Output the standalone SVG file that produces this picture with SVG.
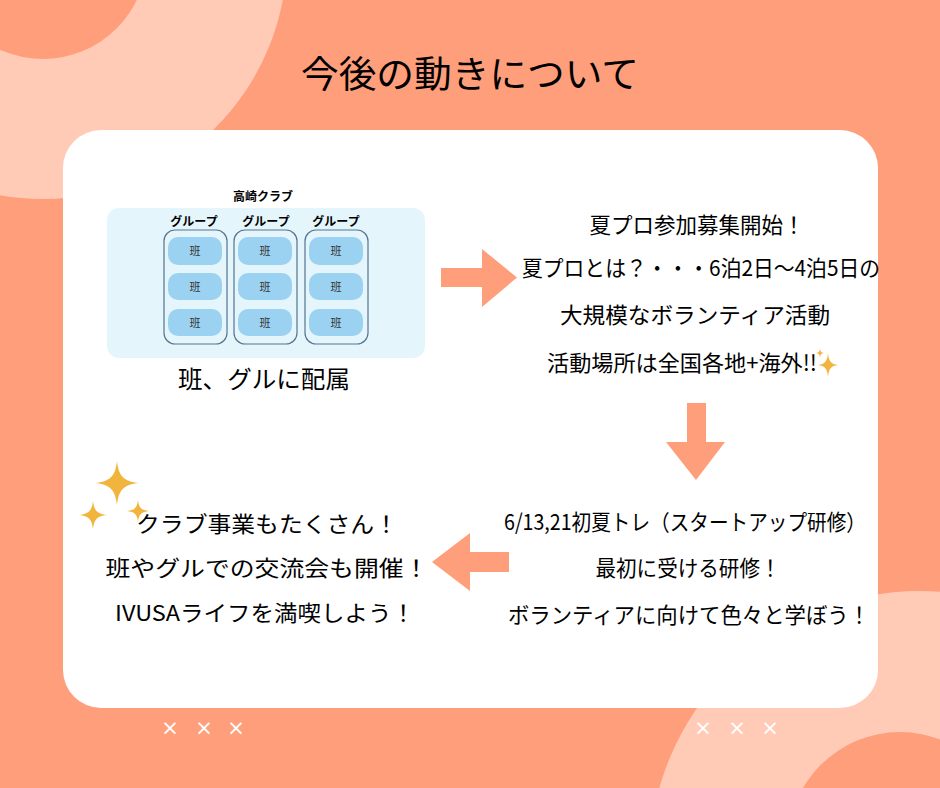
<svg xmlns="http://www.w3.org/2000/svg" width="940" height="788" viewBox="0 0 940 788">
<style>
.jp{font-family:"Noto Sans CJK JP","Noto Sans CJK SC",sans-serif;fill:#000}
.body{font-size:22px}
.small{font-size:12px;font-weight:bold}
.cell{fill:#9CD2F1}
.cellt{font-family:"Noto Sans CJK JP",serif;font-size:11px;fill:#333}
.grp{fill:none;stroke:#557590;stroke-width:1.2}
.arrow{fill:#FF9E7B}
.star{fill:#F1B53E}
.mark{font-family:"DejaVu Sans",sans-serif;font-size:21px;fill:#fff}
</style>
<defs>
<path id="spark" d="M0,-1 C0.08,-0.3 0.3,-0.08 1,0 C0.3,0.08 0.08,0.3 0,1 C-0.08,0.3 -0.3,0.08 -1,0 C-0.3,-0.08 -0.08,-0.3 0,-1 Z"/>
</defs>
<!-- background -->
<rect width="940" height="788" fill="#FF9E7B"/>
<circle cx="43" cy="-45" r="244" fill="#FFCBB6"/>
<circle cx="43" cy="-45" r="104" fill="#FF9E7B"/>
<circle cx="920" cy="862" r="271" fill="#FFCBB6"/>
<circle cx="900" cy="844" r="112" fill="#FF9E7B"/>
<rect x="63" y="130" width="815" height="578" rx="38" fill="#fff"/>

<g id="title"><text class="jp" x="470" y="88" font-size="37" text-anchor="middle" textLength="338" lengthAdjust="spacingAndGlyphs">今後の動きについて</text></g>

<g id="club-diagram">
<text class="jp small" x="263" y="201" text-anchor="middle">高崎クラブ</text>
<rect x="107" y="208" width="318" height="150" rx="12" fill="#E4F6FC"/>
<text class="jp small" x="194" y="226" text-anchor="middle">グループ</text>
<text class="jp small" x="266" y="226" text-anchor="middle">グループ</text>
<text class="jp small" x="336" y="226" text-anchor="middle">グループ</text>
<rect class="grp" x="164" y="230" width="63" height="114" rx="11"/>
<rect class="grp" x="234" y="230" width="63" height="114" rx="11"/>
<rect class="grp" x="305" y="230" width="63" height="114" rx="11"/>
<g>
<rect class="cell" x="168" y="237" width="54" height="28" rx="10"/>
<rect class="cell" x="168" y="273" width="54" height="27" rx="10"/>
<rect class="cell" x="168" y="309" width="54" height="27" rx="10"/>
<rect class="cell" x="238" y="237" width="54" height="28" rx="10"/>
<rect class="cell" x="238" y="273" width="54" height="27" rx="10"/>
<rect class="cell" x="238" y="309" width="54" height="27" rx="10"/>
<rect class="cell" x="309" y="237" width="54" height="28" rx="10"/>
<rect class="cell" x="309" y="273" width="54" height="27" rx="10"/>
<rect class="cell" x="309" y="309" width="54" height="27" rx="10"/>
</g>
<g text-anchor="middle">
<text class="cellt" x="195" y="255">班</text>
<text class="cellt" x="195" y="291">班</text>
<text class="cellt" x="195" y="327">班</text>
<text class="cellt" x="265" y="255">班</text>
<text class="cellt" x="265" y="291">班</text>
<text class="cellt" x="265" y="327">班</text>
<text class="cellt" x="336" y="255">班</text>
<text class="cellt" x="336" y="291">班</text>
<text class="cellt" x="336" y="327">班</text>
</g>
<text class="jp" x="264" y="388" font-size="24" text-anchor="middle" textLength="172" lengthAdjust="spacingAndGlyphs">班、グルに配属</text>
</g>

<g id="summer-program" class="jp body" text-anchor="middle">
<text x="697" y="233" textLength="215" lengthAdjust="spacingAndGlyphs">夏プロ参加募集開始！</text>
<text x="701" y="276" textLength="358" lengthAdjust="spacingAndGlyphs">夏プロとは？・・・6泊2日〜4泊5日の</text>
<text x="695" y="323" textLength="270" lengthAdjust="spacingAndGlyphs">大規模なボランティア活動</text>
<text x="682" y="371" textLength="270" lengthAdjust="spacingAndGlyphs">活動場所は全国各地+海外!!</text>
<use href="#spark" class="star" transform="translate(828,365) scale(10,12)"/>
<use href="#spark" class="star" transform="translate(820,353) scale(4,5)"/>
</g>

<g id="startup-training" class="jp body" text-anchor="middle">
<text x="685" y="530" textLength="362" lengthAdjust="spacingAndGlyphs">6/13,21初夏トレ（スタートアップ研修）</text>
<text x="688" y="576" textLength="185" lengthAdjust="spacingAndGlyphs">最初に受ける研修！</text>
<text x="689" y="623" textLength="362" lengthAdjust="spacingAndGlyphs">ボランティアに向けて色々と学ぼう！</text>
</g>

<g id="club-life">
<use href="#spark" class="star" transform="translate(117,483) scale(22)"/>
<use href="#spark" class="star" transform="translate(93,515) scale(14)"/>
<use href="#spark" class="star" transform="translate(138,511) scale(11)"/>
<g class="jp body" text-anchor="middle">
<text x="267" y="532" textLength="262" lengthAdjust="spacingAndGlyphs">クラブ事業もたくさん！</text>
<text x="267" y="576" textLength="323" lengthAdjust="spacingAndGlyphs">班やグルでの交流会も開催！</text>
<text x="265" y="621" textLength="300" lengthAdjust="spacingAndGlyphs">IVUSAライフを満喫しよう！</text>
</g>
</g>

<g id="connectors">
<polygon class="arrow" points="441,268 482,268 482,249 517,277.5 482,307 482,287 441,287"/>
<polygon class="arrow" points="687,403 706,403 706,442 725,442 696,480 666,442 687,442"/>
<polygon class="arrow" points="509,552 470,552 470,533 432,562 470,591 470,572 509,572"/>
</g>

<g id="marks" class="mark" text-anchor="middle">
<text x="170" y="735">×</text><text x="204" y="735">×</text><text x="236" y="735">×</text>
<text x="703" y="735">×</text><text x="737" y="735">×</text><text x="770" y="735">×</text>
</g>
</svg>
